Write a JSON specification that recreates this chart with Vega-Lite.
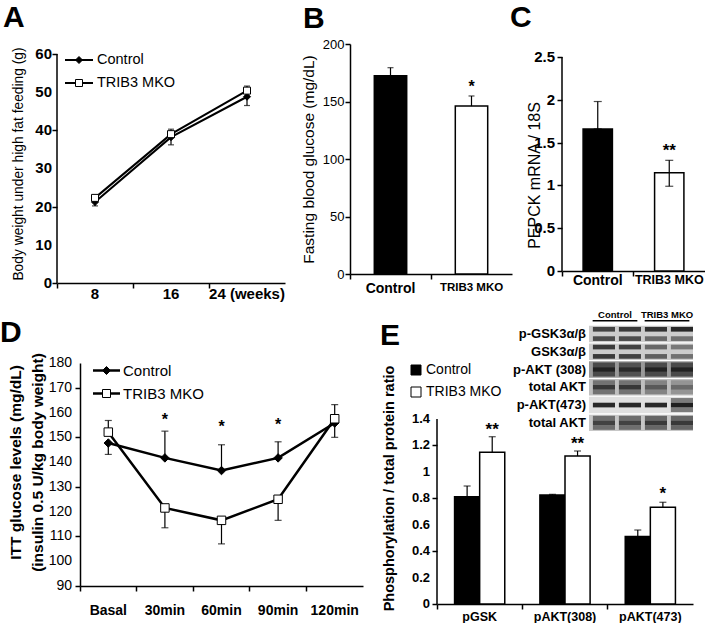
{
  "$schema": "https://vega.github.io/schema/vega-lite/v6.json",
  "padding": {"left": 0, "top": 3, "right": 0, "bottom": 0},
  "background": "white",
  "config": {
    "font": "Liberation Sans",
    "view": {"stroke": null},
    "axis": {"domainColor": "black", "tickColor": "black", "domainWidth": 1.5, "tickWidth": 1.5, "tickSize": 5, "labelColor": "black", "titleColor": "black", "grid": false, "labelPadding": 2, "labelOverlap": false},
    "legend": {"labelColor": "black", "labelFont": "Liberation Sans"},
    "title": {"anchor": "start", "frame": "group", "fontSize": 30, "fontWeight": "bold", "color": "black", "baseline": "alphabetic"},
    "text": {"color": "black"}
  },
  "vconcat": [
    {
      "bounds": "flush",
      "spacing": 50,
      "resolve": {"scale": {"fill": "independent", "shape": "independent"}, "legend": {"fill": "independent", "shape": "independent"}},
      "hconcat": [
        {
          "width": 243, "height": 239,
          "title": {"text": "A", "dx": -54, "offset": 11},
          "layer": [
            {
              "data": {"values": [
                {"wk": "8", "group": "Control", "value": 21.2, "lo": 20.2, "hi": 21.2},
                {"wk": "16", "group": "Control", "value": 38.2, "lo": 36.2, "hi": 38.2},
                {"wk": "24", "group": "Control", "value": 48.8, "lo": 46.5, "hi": 48.8},
                {"wk": "8", "group": "TRIB3 MKO", "value": 22.3, "lo": 22.3, "hi": 23.0},
                {"wk": "16", "group": "TRIB3 MKO", "value": 39.0, "lo": 39.0, "hi": 40.3},
                {"wk": "24", "group": "TRIB3 MKO", "value": 50.4, "lo": 50.4, "hi": 51.6}
              ]},
              "encoding": {
                "x": {"field": "wk", "type": "ordinal", "scale": {"type": "band", "domain": ["8", "16", "24"], "paddingInner": 0, "paddingOuter": 0, "range": [0, 228]},
                  "axis": {"title": null, "labelAngle": 0, "bandPosition": 0, "labelFontSize": 15, "labelFontWeight": "bold", "labelPadding": -2, "labelExpr": "datum.value == '24' ? '24 (weeks)' : datum.value"}}
              },
              "layer": [
                {"mark": {"type": "line", "color": "black", "strokeWidth": 2},
                 "encoding": {
                   "y": {"field": "value", "type": "quantitative", "scale": {"domain": [0, 62.62], "nice": false},
                     "axis": {"values": [0, 10, 20, 30, 40, 50, 60], "labelOpacity": 0, "domain": false, "title": "Body weight under high fat feeding (g)", "titleFontSize": 13.8, "titleFontWeight": "normal", "titlePadding": 10, "labelFontSize": 15, "labelFontWeight": "bold", "labelPadding": 0}},
                   "detail": {"field": "group"}}},
                {"mark": {"type": "rule", "color": "black", "strokeWidth": 1.2},
                 "encoding": {"y": {"field": "lo", "type": "quantitative"}, "y2": {"field": "hi"}}},
                {"mark": {"type": "tick", "color": "black", "size": 6, "thickness": 1.2},
                 "encoding": {"y": {"field": "lo", "type": "quantitative"}}},
                {"mark": {"type": "tick", "color": "black", "size": 6, "thickness": 1.2},
                 "encoding": {"y": {"field": "hi", "type": "quantitative"}}},
                {"mark": {"type": "point", "filled": true, "opacity": 1, "stroke": "black", "strokeWidth": 1, "size": 49},
                 "encoding": {
                   "y": {"field": "value", "type": "quantitative"},
                   "fill": {"field": "group", "type": "nominal", "scale": {"domain": ["Control", "TRIB3 MKO"], "range": ["black", "white"]}, "legend": null},
                   "shape": {"field": "group", "type": "nominal", "scale": {"domain": ["Control", "TRIB3 MKO"], "range": ["diamond", "square"]}, "legend": null}}},
                {"data": {"values": [{}]},
                 "mark": {"type": "rule", "color": "black", "strokeWidth": 1.5},
                 "encoding": {"x": {"datum": "8", "type": "ordinal", "bandPosition": 0}, "y": {"datum": 0, "type": "quantitative"}, "y2": {"datum": 60}}},
                {"data": {"values": [{"v": 0}, {"v": 10}, {"v": 20}, {"v": 30}, {"v": 40}, {"v": 50}, {"v": 60}]},
                 "mark": {"type": "text", "align": "right", "baseline": "middle", "dx": -5, "fontSize": 15, "fontWeight": "bold"},
                 "encoding": {"x": {"datum": "8", "type": "ordinal", "bandPosition": 0}, "y": {"field": "v", "type": "quantitative"}, "text": {"field": "v", "type": "quantitative", "format": "~g"}}}
              ]
            },
            {
              "data": {"values": [{"group": "Control"}, {"group": "TRIB3 MKO"}]},
              "encoding": {
                "y": {"field": "group", "type": "nominal", "scale": {"type": "point", "domain": ["Control", "TRIB3 MKO"], "range": [16, 39], "padding": 0}, "axis": null}
              },
              "layer": [
                {"mark": {"type": "rule", "color": "black", "strokeWidth": 2},
                 "encoding": {"x": {"datum": -1, "type": "quantitative", "scale": {"domain": [-1, 1], "range": [8, 36]}, "axis": null}, "x2": {"datum": 1}}},
                {"mark": {"type": "point", "filled": true, "opacity": 1, "stroke": "black", "strokeWidth": 1, "size": 49},
                 "encoding": {"x": {"datum": 0, "type": "quantitative"},
                   "fill": {"field": "group", "type": "nominal", "scale": {"domain": ["Control", "TRIB3 MKO"], "range": ["black", "white"]}, "legend": null},
                   "shape": {"field": "group", "type": "nominal", "scale": {"domain": ["Control", "TRIB3 MKO"], "range": ["diamond", "square"]}, "legend": null}}},
                {"mark": {"type": "text", "align": "left", "baseline": "middle", "dx": 4, "fontSize": 14.5},
                 "encoding": {"x": {"datum": 1, "type": "quantitative"}, "text": {"field": "group"}}}
              ]
            }
          ],
          "resolve": {"scale": {"x": "independent", "y": "independent"}}
        },
        {
          "width": 162, "height": 230,
          "title": {"text": "B", "dx": -47, "offset": 4},
          "data": {"values": [
            {"g": "Control", "value": 172.5, "lo": 172.5, "hi": 179.4},
            {"g": "TRIB3 MKO", "value": 146, "lo": 146, "hi": 154.8, "sig": "*", "sigy": 163}
          ]},
          "encoding": {
            "x": {"field": "g", "type": "nominal", "scale": {"domain": ["Control", "TRIB3 MKO"], "paddingInner": 0, "paddingOuter": 0},
              "axis": {"title": null, "labelAngle": 0, "bandPosition": 0, "labelFontWeight": "bold", "labelFontSize": {"condition": {"test": "datum.value == 'Control'", "value": 14}, "value": 11.5}, "labelPadding": 2}}
          },
          "layer": [
            {"mark": {"type": "bar", "width": {"band": 0.4}, "stroke": "black", "strokeWidth": 1.5},
             "encoding": {
               "y": {"field": "value", "type": "quantitative", "scale": {"domain": [0, 200], "nice": false},
                 "axis": {"values": [0, 50, 100, 150, 200], "labelOverlap": false, "title": "Fasting blood glucose (mg/dL)", "titleFontSize": 15.5, "titleFontWeight": "normal", "titlePadding": 6, "labelFontSize": 13, "labelPadding": 1}},
               "fill": {"field": "g", "type": "nominal", "scale": {"domain": ["Control", "TRIB3 MKO"], "range": ["black", "white"]}, "legend": null}}},
            {"mark": {"type": "rule", "color": "black", "strokeWidth": 1.2},
             "encoding": {"y": {"field": "lo", "type": "quantitative"}, "y2": {"field": "hi"}}},
            {"mark": {"type": "tick", "color": "black", "size": 6, "thickness": 1.2},
             "encoding": {"y": {"field": "hi", "type": "quantitative"}}},
            {"transform": [{"filter": "isValid(datum.sig)"}],
             "mark": {"type": "text", "fontSize": 16, "fontWeight": "bold", "baseline": "middle"},
             "encoding": {"y": {"field": "sigy", "type": "quantitative"}, "text": {"field": "sig"}}}
          ]
        },
        {
          "width": 143, "height": 227,
          "title": {"text": "C", "dx": -52, "offset": 11},
          "data": {"values": [
            {"g": "Control", "value": 1.66, "lo": 1.66, "hi": 1.98},
            {"g": "TRIB3 MKO", "value": 1.148, "lo": 0.99, "hi": 1.293, "sig": "**", "sigy": 1.4}
          ]},
          "encoding": {
            "x": {"field": "g", "type": "nominal", "scale": {"domain": ["Control", "TRIB3 MKO"], "paddingInner": 0, "paddingOuter": 0},
              "axis": {"title": null, "labelAngle": 0, "bandPosition": 0, "labelFontWeight": "bold", "labelFontSize": {"condition": {"test": "datum.value == 'Control'", "value": 14}, "value": 12.5}, "labelPadding": -3}}
          },
          "layer": [
            {"mark": {"type": "bar", "width": {"band": 0.41}, "stroke": "black", "strokeWidth": 1.5},
             "encoding": {
               "y": {"field": "value", "type": "quantitative", "scale": {"domain": [0, 2.652], "nice": false},
                 "axis": {"values": [0, 0.5, 1, 1.5, 2, 2.5], "labelOpacity": 0, "format": "~g", "domain": false, "title": "PEPCK mRNA / 18S", "titleFontSize": 16, "titleFontWeight": "normal", "titlePadding": -8, "titleY": 131, "labelFontSize": 15, "labelFontWeight": "bold", "labelPadding": 2}},
               "fill": {"field": "g", "type": "nominal", "scale": {"domain": ["Control", "TRIB3 MKO"], "range": ["black", "white"]}, "legend": null}}},
            {"mark": {"type": "rule", "color": "black", "strokeWidth": 1.2},
             "encoding": {"y": {"field": "lo", "type": "quantitative"}, "y2": {"field": "hi"}}},
            {"mark": {"type": "tick", "color": "black", "size": 8, "thickness": 1.2},
             "encoding": {"y": {"field": "hi", "type": "quantitative"}}},
            {"mark": {"type": "tick", "color": "black", "size": 8, "thickness": 1.2},
             "encoding": {"y": {"field": "lo", "type": "quantitative"}}},
            {"transform": [{"filter": "isValid(datum.sig)"}],
             "mark": {"type": "text", "fontSize": 17, "fontWeight": "bold", "baseline": "middle"},
             "encoding": {"y": {"field": "sigy", "type": "quantitative"}, "text": {"field": "sig"}}},
            {"data": {"values": [{}]},
             "mark": {"type": "rule", "color": "black", "strokeWidth": 1.5},
             "encoding": {"x": {"datum": "Control", "type": "nominal", "bandPosition": 0}, "y": {"datum": 0, "type": "quantitative"}, "y2": {"datum": 2.5}}},
            {"data": {"values": [{"v": 0}, {"v": 0.5}, {"v": 1}, {"v": 1.5}, {"v": 2}, {"v": 2.5}]},
             "mark": {"type": "text", "align": "right", "baseline": "middle", "dx": -7, "fontSize": 15, "fontWeight": "bold"},
             "encoding": {"x": {"datum": "Control", "type": "nominal", "bandPosition": 0}, "y": {"field": "v", "type": "quantitative"}, "text": {"field": "v", "type": "quantitative", "format": "~g"}}}
          ]
        }
      ]
    },
    {
      "bounds": "flush",
      "spacing": 74,
      "resolve": {"scale": {"fill": "independent", "shape": "independent"}, "legend": {"fill": "independent", "shape": "independent"}},
      "hconcat": [
        {
          "width": 306, "height": 223,
          "title": {"text": "D", "dx": -57, "offset": 5},
          "layer": [
            {
              "data": {"values": [
                {"t": "Basal", "group": "Control", "value": 147.7, "lo": 143.1, "hi": 147.7},
                {"t": "30min", "group": "Control", "value": 141.7, "lo": 141.7, "hi": 152.5},
                {"t": "60min", "group": "Control", "value": 136.6, "lo": 136.6, "hi": 147.0},
                {"t": "90min", "group": "Control", "value": 141.7, "lo": 141.7, "hi": 148.2},
                {"t": "120min", "group": "Control", "value": 155.8, "lo": 150.0, "hi": 155.8},
                {"t": "Basal", "group": "TRIB3 MKO", "value": 152.1, "lo": 152.1, "hi": 156.8},
                {"t": "30min", "group": "TRIB3 MKO", "value": 121.5, "lo": 113.5, "hi": 121.5},
                {"t": "60min", "group": "TRIB3 MKO", "value": 116.5, "lo": 107.0, "hi": 116.5},
                {"t": "90min", "group": "TRIB3 MKO", "value": 125.0, "lo": 116.5, "hi": 125.0},
                {"t": "120min", "group": "TRIB3 MKO", "value": 157.5, "lo": 157.5, "hi": 163.2}
              ]},
              "encoding": {
                "x": {"field": "t", "type": "nominal", "scale": {"domain": ["Basal", "30min", "60min", "90min", "120min"], "paddingInner": 0, "paddingOuter": 0, "range": [23, 306]},
                  "axis": {"title": null, "labelAngle": 0, "bandPosition": 0, "labelFontSize": 14, "labelFontWeight": "bold", "labelPadding": 12}}
              },
              "layer": [
                {"mark": {"type": "line", "color": "black", "strokeWidth": 2.5},
                 "encoding": {
                   "y": {"field": "value", "type": "quantitative", "scale": {"domain": [90, 180], "nice": false, "zero": false},
                     "axis": {"values": [90, 100, 110, 120, 130, 140, 150, 160, 170, 180], "labelOpacity": 0, "offset": -23, "title": ["ITT glucose levels (mg/dL)", "(insulin 0.5 U/kg body weight)"], "titleFontSize": 15.5, "titleFontWeight": "bold", "titleLineHeight": 22, "titlePadding": 3, "titleY": 99, "labelFontSize": 14, "labelPadding": 3}},
                   "detail": {"field": "group"}}},
                {"mark": {"type": "rule", "color": "black", "strokeWidth": 1.2},
                 "encoding": {"y": {"field": "lo", "type": "quantitative"}, "y2": {"field": "hi"}}},
                {"mark": {"type": "tick", "color": "black", "size": 7, "thickness": 1.2},
                 "encoding": {"y": {"field": "lo", "type": "quantitative"}}},
                {"mark": {"type": "tick", "color": "black", "size": 7, "thickness": 1.2},
                 "encoding": {"y": {"field": "hi", "type": "quantitative"}}},
                {"mark": {"type": "point", "filled": true, "opacity": 1, "stroke": "black", "strokeWidth": 1, "size": 72},
                 "encoding": {
                   "y": {"field": "value", "type": "quantitative"},
                   "fill": {"field": "group", "type": "nominal", "scale": {"domain": ["Control", "TRIB3 MKO"], "range": ["black", "white"]}, "legend": null},
                   "shape": {"field": "group", "type": "nominal", "scale": {"domain": ["Control", "TRIB3 MKO"], "range": ["diamond", "square"]}, "legend": null}}},
                {"data": {"values": [
                   {"t": "30min", "sig": "*", "sigy": 157},
                   {"t": "60min", "sig": "*", "sigy": 154},
                   {"t": "90min", "sig": "*", "sigy": 155}
                 ]},
                 "mark": {"type": "text", "fontSize": 16, "fontWeight": "bold", "baseline": "middle"},
                 "encoding": {"y": {"field": "sigy", "type": "quantitative"}, "text": {"field": "sig"}}},
                {"data": {"values": [{"v": 90}, {"v": 100}, {"v": 110}, {"v": 120}, {"v": 130}, {"v": 140}, {"v": 150}, {"v": 160}, {"v": 170}, {"v": 180}]},
                 "mark": {"type": "text", "align": "right", "baseline": "middle", "dx": -8, "fontSize": 14},
                 "encoding": {"x": {"datum": "Basal", "type": "nominal", "bandPosition": 0}, "y": {"field": "v", "type": "quantitative"}, "text": {"field": "v", "type": "quantitative", "format": "d"}}}
              ]
            },
            {
              "data": {"values": [{"group": "Control"}, {"group": "TRIB3 MKO"}]},
              "encoding": {
                "y": {"field": "group", "type": "nominal", "scale": {"type": "point", "domain": ["Control", "TRIB3 MKO"], "range": [7.5, 30.5], "padding": 0}, "axis": null}
              },
              "layer": [
                {"mark": {"type": "rule", "color": "black", "strokeWidth": 2.5},
                 "encoding": {"x": {"datum": -1, "type": "quantitative", "scale": {"domain": [-1, 1], "range": [36, 63]}, "axis": null}, "x2": {"datum": 1}}},
                {"mark": {"type": "point", "filled": true, "opacity": 1, "stroke": "black", "strokeWidth": 1, "size": 64},
                 "encoding": {"x": {"datum": 0, "type": "quantitative"},
                   "fill": {"field": "group", "type": "nominal", "scale": {"domain": ["Control", "TRIB3 MKO"], "range": ["black", "white"]}, "legend": null},
                   "shape": {"field": "group", "type": "nominal", "scale": {"domain": ["Control", "TRIB3 MKO"], "range": ["diamond", "square"]}, "legend": null}}},
                {"mark": {"type": "text", "align": "left", "baseline": "middle", "dx": 3, "fontSize": 15},
                 "encoding": {"x": {"datum": 1, "type": "quantitative"}, "text": {"field": "group"}}}
              ]
            }
          ],
          "resolve": {"scale": {"x": "independent", "y": "independent"}}
        },
        {
          "width": 256, "height": 241,
          "title": {"text": "E", "dx": -57, "offset": -41},
          "layer": [
            {
              "data": {"values": [
                {"cat": "pGSK", "g": "Control", "value": 0.812, "hi": 0.893},
                {"cat": "pGSK", "g": "TRIB3 MKO", "value": 1.148, "hi": 1.266, "sig": "**", "sigy": 1.32},
                {"cat": "pAKT(308)", "g": "Control", "value": 0.825, "hi": 0.83},
                {"cat": "pAKT(308)", "g": "TRIB3 MKO", "value": 1.12, "hi": 1.158, "sig": "**", "sigy": 1.21},
                {"cat": "pAKT(473)", "g": "Control", "value": 0.51, "hi": 0.56},
                {"cat": "pAKT(473)", "g": "TRIB3 MKO", "value": 0.732, "hi": 0.77, "sig": "*", "sigy": 0.83}
              ]},
              "layer": [
                {"mark": {"type": "bar", "stroke": "black", "strokeWidth": 1.5},
                 "encoding": {
                   "x": {"field": "cat", "type": "nominal", "scale": {"domain": ["pGSK", "pAKT(308)", "pAKT(473)"], "paddingInner": 0, "paddingOuter": 0},
                     "axis": {"title": null, "labelAngle": 0, "bandPosition": 0, "labelFontSize": 12.5, "labelFontWeight": "bold", "labelPadding": 1}},
                   "xOffset": {"field": "g", "type": "nominal", "scale": {"domain": ["Control", "TRIB3 MKO"], "paddingInner": 0, "paddingOuter": 0.7}},
                   "y": {"field": "value", "type": "quantitative", "scale": {"domain": [0, 1.824], "nice": false},
                     "axis": {"values": [0, 0.2, 0.4, 0.6, 0.8, 1, 1.2, 1.4], "labelOpacity": 0, "format": "~g", "domain": false, "title": "Phosphorylation / total protein ratio", "titleFontSize": 14.5, "titleFontWeight": "bold", "titlePadding": 15, "titleY": 125, "labelFontSize": 13, "labelFontWeight": "bold", "labelPadding": 2}},
                   "fill": {"field": "g", "type": "nominal", "scale": {"domain": ["Control", "TRIB3 MKO"], "range": ["black", "white"]},
                     "legend": {"title": null, "orient": "none", "legendX": -28, "legendY": 0, "symbolType": "square", "symbolSize": 100, "symbolStrokeColor": "black", "symbolStrokeWidth": 1, "labelFontSize": 14, "labelOffset": 3, "rowPadding": 8, "padding": 0}}}},
                {"mark": {"type": "rule", "color": "black", "strokeWidth": 1.2},
                 "encoding": {"x": {"field": "cat", "type": "nominal"}, "xOffset": {"field": "g", "type": "nominal"}, "y": {"field": "value", "type": "quantitative"}, "y2": {"field": "hi"}}},
                {"mark": {"type": "tick", "color": "black", "size": 7, "thickness": 1.2},
                 "encoding": {"x": {"field": "cat", "type": "nominal"}, "xOffset": {"field": "g", "type": "nominal"}, "y": {"field": "hi", "type": "quantitative"}}},
                {"transform": [{"filter": "isValid(datum.sig)"}],
                 "mark": {"type": "text", "fontSize": 17, "fontWeight": "bold", "baseline": "middle"},
                 "encoding": {"x": {"field": "cat", "type": "nominal"}, "xOffset": {"field": "g", "type": "nominal"}, "y": {"field": "sigy", "type": "quantitative"}, "text": {"field": "sig"}}},
                {"data": {"values": [{}]},
                 "mark": {"type": "rule", "color": "black", "strokeWidth": 1.5},
                 "encoding": {"x": {"datum": "pGSK", "type": "nominal", "bandPosition": 0}, "y": {"datum": 0, "type": "quantitative"}, "y2": {"datum": 1.4}}},
                {"data": {"values": [{"v": 0}, {"v": 0.2}, {"v": 0.4}, {"v": 0.6}, {"v": 0.8}, {"v": 1}, {"v": 1.2}, {"v": 1.4}]},
                 "mark": {"type": "text", "align": "right", "baseline": "middle", "dx": -7, "fontSize": 13, "fontWeight": "bold"},
                 "encoding": {"x": {"datum": "pGSK", "type": "nominal", "bandPosition": 0}, "y": {"field": "v", "type": "quantitative"}, "text": {"field": "v", "type": "quantitative", "format": "~g"}}}
              ]
            },
            {
              "layer": [
                {"data": {"values": [
                  {"row": "r1", "grp": "Control", "shade": 0.2}, {"row": "r1", "grp": "TRIB3 MKO", "shade": 0.2},
                  {"row": "r2", "grp": "Control", "shade": 0.2}, {"row": "r2", "grp": "TRIB3 MKO", "shade": 0.2},
                  {"row": "r3", "grp": "Control", "shade": 0.4}, {"row": "r3", "grp": "TRIB3 MKO", "shade": 0.4},
                  {"row": "r4", "grp": "Control", "shade": 0.25}, {"row": "r4", "grp": "TRIB3 MKO", "shade": 0.25},
                  {"row": "r5", "grp": "Control", "shade": 0.12}, {"row": "r5", "grp": "TRIB3 MKO", "shade": 0.12},
                  {"row": "r6", "grp": "Control", "shade": 0.22}, {"row": "r6", "grp": "TRIB3 MKO", "shade": 0.22}
                 ]},
                 "mark": {"type": "bar", "color": "black"},
                 "encoding": {
                   "x": {"field": "grp", "type": "nominal", "scale": {"domain": ["Control", "TRIB3 MKO"], "range": [152, 256], "paddingInner": 0, "paddingOuter": 0}, "axis": null},
                   "y": {"field": "row", "type": "nominal", "scale": {"domain": ["hdr", "r1", "r2", "r3", "r4", "r5", "r6"], "range": [-55, 68], "paddingInner": 0.08, "paddingOuter": 0}, "axis": null},
                   "opacity": {"field": "shade", "type": "quantitative", "scale": null, "legend": null}}},
                {"data": {"values": [
                  {"row": "r1", "grp": "Control", "lane": "a", "t": 0.75, "b": 0.7},
                  {"row": "r1", "grp": "Control", "lane": "b", "t": 0.8, "b": 0.7},
                  {"row": "r1", "grp": "TRIB3 MKO", "lane": "a", "t": 0.85, "b": 0.55},
                  {"row": "r1", "grp": "TRIB3 MKO", "lane": "b", "t": 0.9, "b": 0.5},
                  {"row": "r2", "grp": "Control", "lane": "a", "t": 0.8, "b": 0.8},
                  {"row": "r2", "grp": "Control", "lane": "b", "t": 0.75, "b": 0.75},
                  {"row": "r2", "grp": "TRIB3 MKO", "lane": "a", "t": 0.55, "b": 0.6},
                  {"row": "r2", "grp": "TRIB3 MKO", "lane": "b", "t": 0.45, "b": 0.5},
                  {"row": "r3", "grp": "Control", "lane": "a", "t": 0.6, "m": 0.9, "b": 0.6},
                  {"row": "r3", "grp": "Control", "lane": "b", "t": 0.55, "m": 0.85, "b": 0.55},
                  {"row": "r3", "grp": "TRIB3 MKO", "lane": "a", "t": 0.6, "m": 0.9, "b": 0.6},
                  {"row": "r3", "grp": "TRIB3 MKO", "lane": "b", "t": 0.6, "m": 0.9, "b": 0.6},
                  {"row": "r4", "grp": "Control", "lane": "a", "t": 0.45, "m": 0.8, "b": 0.45},
                  {"row": "r4", "grp": "Control", "lane": "b", "t": 0.45, "m": 0.8, "b": 0.45},
                  {"row": "r4", "grp": "TRIB3 MKO", "lane": "a", "t": 0.35, "m": 0.6, "b": 0.35},
                  {"row": "r4", "grp": "TRIB3 MKO", "lane": "b", "t": 0.25, "m": 0.5, "b": 0.25},
                  {"row": "r5", "grp": "Control", "lane": "a", "m": 0.9},
                  {"row": "r5", "grp": "Control", "lane": "b", "m": 0.9},
                  {"row": "r5", "grp": "TRIB3 MKO", "lane": "a", "m": 0.9},
                  {"row": "r5", "grp": "TRIB3 MKO", "lane": "b", "t": 0.5, "m": 0.95, "b": 0.5},
                  {"row": "r6", "grp": "Control", "lane": "a", "t": 0.5, "m": 0.75, "b": 0.5},
                  {"row": "r6", "grp": "Control", "lane": "b", "t": 0.5, "m": 0.75, "b": 0.5},
                  {"row": "r6", "grp": "TRIB3 MKO", "lane": "a", "t": 0.55, "m": 0.8, "b": 0.55},
                  {"row": "r6", "grp": "TRIB3 MKO", "lane": "b", "t": 0.55, "m": 0.8, "b": 0.55}
                 ]},
                 "transform": [{"fold": ["t", "m", "b"], "as": ["sub", "dens"]}, {"filter": "isValid(datum.dens)"}],
                 "mark": {"type": "bar", "color": "#151515", "width": {"band": 0.85}},
                 "encoding": {
                   "x": {"field": "grp", "type": "nominal"},
                   "xOffset": {"field": "lane", "type": "nominal", "scale": {"domain": ["a", "b"], "paddingInner": 0, "paddingOuter": 0}},
                   "y": {"field": "row", "type": "nominal"},
                   "yOffset": {"field": "sub", "type": "nominal", "scale": {"domain": ["t", "m", "b"], "paddingInner": 0, "paddingOuter": 0.25}},
                   "opacity": {"field": "dens", "type": "quantitative", "scale": null, "legend": null}}},
                {"data": {"values": [
                  {"row": "r1", "grp": "Control", "label": "p-GSK3α/β"},
                  {"row": "r2", "grp": "Control", "label": "GSK3α/β"},
                  {"row": "r3", "grp": "Control", "label": "p-AKT (308)"},
                  {"row": "r4", "grp": "Control", "label": "total AKT"},
                  {"row": "r5", "grp": "Control", "label": "p-AKT(473)"},
                  {"row": "r6", "grp": "Control", "label": "total AKT"}
                 ]},
                 "mark": {"type": "text", "align": "right", "baseline": "middle", "dx": -3, "fontSize": 13, "fontWeight": "bold"},
                 "encoding": {
                   "x": {"field": "grp", "type": "nominal", "bandPosition": 0},
                   "y": {"field": "row", "type": "nominal"},
                   "text": {"field": "label"}}},
                {"data": {"values": [
                  {"row": "hdr", "sub": "b", "grp": "Control"},
                  {"row": "hdr", "sub": "b", "grp": "TRIB3 MKO"}
                 ]},
                 "layer": [
                   {"mark": {"type": "text", "baseline": "middle", "dy": -1, "fontSize": 9.5, "fontWeight": "bold"},
                    "encoding": {"x": {"field": "grp", "type": "nominal"}, "y": {"field": "row", "type": "nominal"}, "text": {"field": "grp"}}},
                   {"mark": {"type": "bar", "color": "black", "height": 1.5, "width": {"band": 0.86}},
                    "encoding": {"x": {"field": "grp", "type": "nominal"}, "y": {"field": "row", "type": "nominal"}, "yOffset": {"field": "sub", "type": "nominal"}}}
                 ]}
              ]
            }
          ],
          "resolve": {"scale": {"x": "independent", "y": "independent", "xOffset": "independent", "yOffset": "independent", "opacity": "independent", "fill": "independent"}}
        }
      ]
    }
  ],
  "spacing": 9
}
